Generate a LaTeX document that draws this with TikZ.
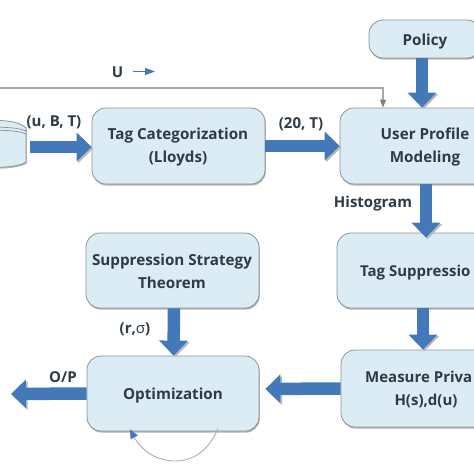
\documentclass[tikz,border=0pt]{standalone}
\usepackage{fontspec}
\setmainfont{Open Sans}
\usetikzlibrary{arrows.meta,shadows,calc}
\definecolor{boxfill}{HTML}{DCECF4}
\definecolor{boxline}{HTML}{8C9499}
\definecolor{flow}{HTML}{4379B8}
\definecolor{ink}{HTML}{2E3A44}
\definecolor{thin}{HTML}{A8A8A8}
\tikzset{
  procbox/.style={draw=boxline,line width=0.8pt,fill=boxfill,rounded corners=14pt,align=center,
    text=ink,font=\bfseries\fontsize{15.2}{23}\selectfont,inner sep=0pt,
    execute at begin node={\rule{0pt}{16.5pt}},
    drop shadow={shadow xshift=0.8pt,shadow yshift=-1.6pt,opacity=0.55,fill=black!55}},
  emptybox/.style={procbox,execute at begin node={}},
  boxtext/.style={text=ink,font=\bfseries\fontsize{15}{23}\selectfont,inner sep=0pt},
  stacktext/.style={text=ink,align=center,font=\bfseries\fontsize{15.2}{23}\selectfont,inner sep=0pt},
  flowarrow/.style={line width=12.5pt,draw=flow,
    -{Triangle[length=15pt,width=28pt,fill=flow]},
    preaction={draw=black!28,transform canvas={xshift=1.6pt,yshift=-1.6pt}}},
  lab/.style={text=ink,font=\bfseries\fontsize{15}{17}\selectfont,inner sep=0pt},
  thinline/.style={draw=thin,line width=1.3pt,-{Triangle[length=8pt,width=6pt,fill=gray,color=gray]}},
}
\begin{document}
\begin{tikzpicture}[x=1pt,y=-1pt]
\useasboundingbox (0,0) rectangle (474,474);
\clip (0,0) rectangle (474,474);
\fill[white] (0,0) rectangle (474,474);

\node[procbox,minimum width=112pt,minimum height=38pt] (policy) at (425,39) {Policy};
\node[emptybox,minimum width=173pt,minimum height=76pt] (tagcat) at (178.5,146) {};
\node[emptybox,minimum width=170pt,minimum height=76pt] (user) at (425,146) {};
\node[emptybox,minimum width=173pt,minimum height=75pt] (strategy) at (172.5,270.5) {};
\node[emptybox,minimum width=176pt,minimum height=75pt] (tagsup) at (425,270.5) {};
\node[procbox,minimum width=172pt,minimum height=75pt] (opt) at (173,393.5) {Optimization};
\node[emptybox,minimum width=170pt,minimum height=77pt] (measure) at (426,388.5) {};
\node[stacktext] (tagcattext) at (178,147.5) {Tag Categorization\\(Lloyds)};
\node[stacktext] (usertext) at (425,147.5) {User Profile\\Modeling};
\node[stacktext] (strategytext) at (172,271.5) {Suppression Strategy\\Theorem};
\node[boxtext,anchor=base west] (tagsuptext) at (360,276) {Tag Suppressio};
\node[boxtext,anchor=base west] (measuretext) at (365,382) {Measure Priva};
\node[boxtext,anchor=base] (measurevars) at (426,405.5) {H(s),d(u)};

% database cylinder
\path[draw=boxline,line width=0.8pt,fill=boxfill,
  drop shadow={shadow xshift=0.8pt,shadow yshift=-1.4pt,opacity=0.5,fill=black!55}]
  (-30,128) .. controls (-20,118) and (16,118) .. (26,128) -- (26,162)
  .. controls (16,169) and (-20,169) .. (-30,162) -- cycle;
\draw[boxline,line width=0.7pt] (-30,131) .. controls (-20,126) and (16,126) .. (26,131);
\draw[boxline,line width=0.7pt] (-30,134) .. controls (-20,129) and (16,129) .. (26,134);

% free ends
\coordinate (dbout) at (30,147);
\coordinate (optout) at (11,394);
\coordinate (uin) at (0,88);
\coordinate (ulegA) at (133,71.5);
\coordinate (ulegB) at (155,71.5);

% thick flow arrows
\draw[flowarrow] ([xshift=-3pt]policy.south) -- ([xshift=-3pt]user.north);
\draw[flowarrow] (dbout) -- (dbout -| tagcat.west);
\draw[flowarrow] (tagcat.east) -- (user.west);
\draw[flowarrow] ([xshift=1pt]user.south) -- ([xshift=1pt,yshift=-5pt]tagsup.north);
\draw[flowarrow] ([xshift=-2pt]tagsup.south) -- ([xshift=-3pt]measure.north);
\draw[flowarrow] ([xshift=1.5pt]strategy.south) -- ([xshift=0.5pt]opt.north);
\draw[flowarrow,shorten >=6pt] (measure.west) -- ([yshift=4.5pt]opt.east);
\draw[flowarrow] (opt.west) -- (optout);

% thin lines
\draw[thinline] (uin) -| ([xshift=-42pt]user.north);
\draw[flow,line width=1pt,-{Triangle[length=10pt,width=7pt,fill=flow]}] (ulegA) -- (ulegB);
\draw[boxline!80,line width=0.8pt,-{Triangle[length=9pt,width=8pt,fill=flow,color=flow]}]
  ([xshift=45pt,yshift=3pt]opt.south) .. controls (208,452) and (192,461) .. (175,461)
  .. controls (156,461) and (141,450) .. ([xshift=-43pt,yshift=2pt]opt.south);

% labels
\node[lab] (lu) at (117.5,72) {U};
\node[lab] (lubt) at (54,122.5) {(u, B, T)};
\node[lab] (l20) at (301,124.5) {(20, T)};
\node[lab] (lhist) at (373,203.5) {Histogram};
\node[lab] (lrs) at (135,329.5) {(r,{\mdseries σ})};
\node[lab] (lop) at (63,377) {O/P};
\end{tikzpicture}
\end{document}
